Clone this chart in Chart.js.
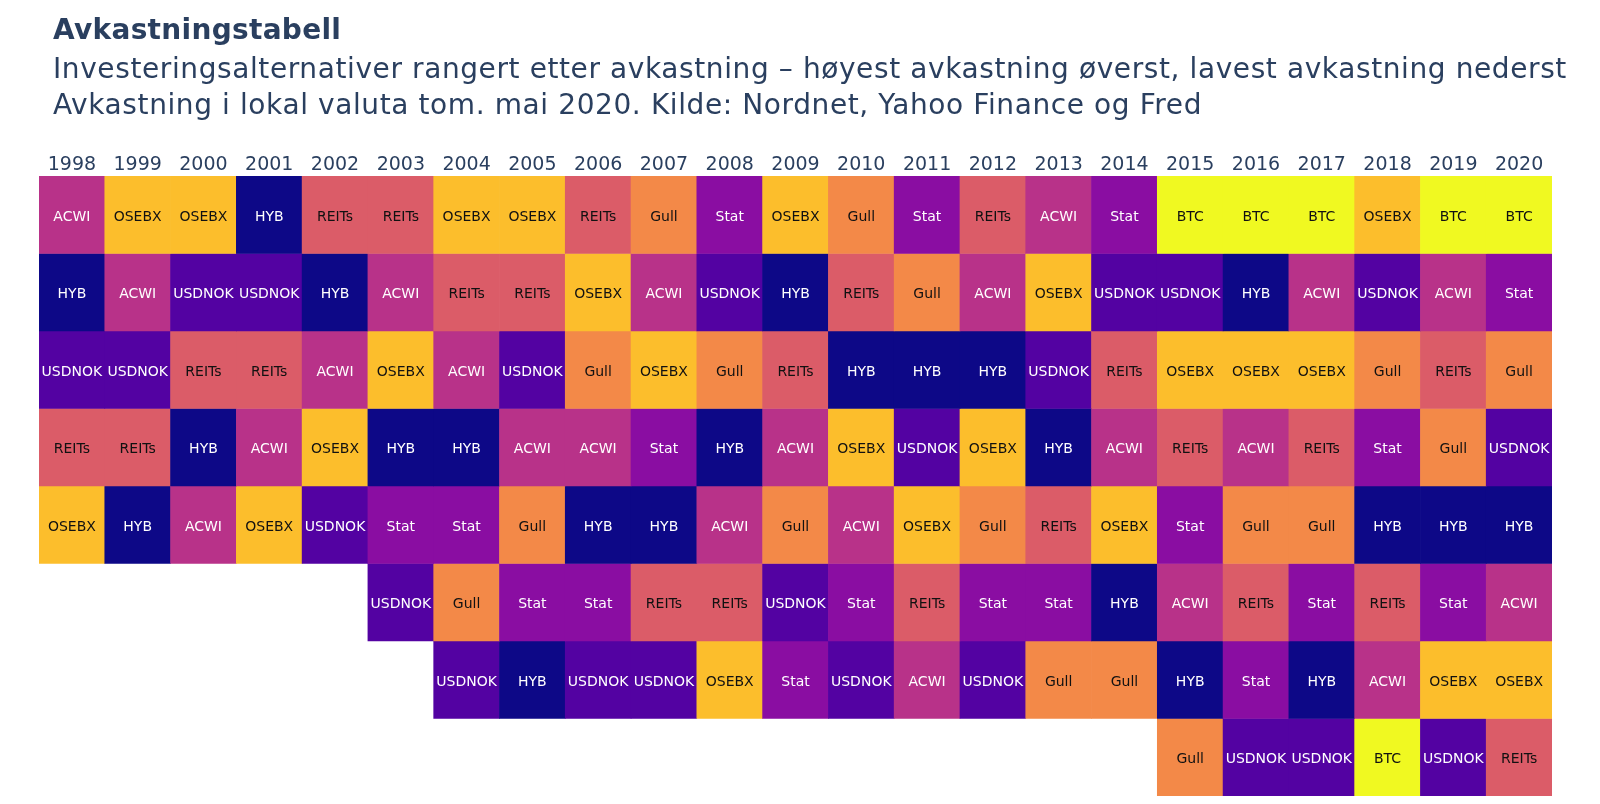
<!DOCTYPE html>
<html>
<head>
<meta charset="utf-8">
<script src="https://cdn.jsdelivr.net/npm/chart.js@4/dist/chart.umd.min.js"></script>
<style>
  html, body { margin: 0; padding: 0; background: #fff; }
  #wrap { width: 1600px; height: 804px; position: relative; }
</style>
</head>
<body>
<div id="wrap"><canvas id="chart"></canvas></div>
<script>
// years on the x axis
const years = ['1998','1999','2000','2001','2002','2003','2004','2005','2006','2007','2008',
  '2009','2010','2011','2012','2013','2014','2015','2016','2017','2018','2019','2020'];

// ranking per year, best on top (rank1) to worst (rank8); null = no entry
const rank1 = ['ACWI','OSEBX','OSEBX','HYB','REITs','REITs','OSEBX','OSEBX','REITs','Gull','Stat','OSEBX','Gull','Stat','REITs','ACWI','Stat','BTC','BTC','BTC','OSEBX','BTC','BTC'];
const rank2 = ['HYB','ACWI','USDNOK','USDNOK','HYB','ACWI','REITs','REITs','OSEBX','ACWI','USDNOK','HYB','REITs','Gull','ACWI','OSEBX','USDNOK','USDNOK','HYB','ACWI','USDNOK','ACWI','Stat'];
const rank3 = ['USDNOK','USDNOK','REITs','REITs','ACWI','OSEBX','ACWI','USDNOK','Gull','OSEBX','Gull','REITs','HYB','HYB','HYB','USDNOK','REITs','OSEBX','OSEBX','OSEBX','Gull','REITs','Gull'];
const rank4 = ['REITs','REITs','HYB','ACWI','OSEBX','HYB','HYB','ACWI','ACWI','Stat','HYB','ACWI','OSEBX','USDNOK','OSEBX','HYB','ACWI','REITs','ACWI','REITs','Stat','Gull','USDNOK'];
const rank5 = ['OSEBX','HYB','ACWI','OSEBX','USDNOK','Stat','Stat','Gull','HYB','HYB','ACWI','Gull','ACWI','OSEBX','Gull','REITs','OSEBX','Stat','Gull','Gull','HYB','HYB','HYB'];
const rank6 = [null,null,null,null,null,'USDNOK','Gull','Stat','Stat','REITs','REITs','USDNOK','Stat','REITs','Stat','Stat','HYB','ACWI','REITs','Stat','REITs','Stat','ACWI'];
const rank7 = [null,null,null,null,null,null,'USDNOK','HYB','USDNOK','USDNOK','OSEBX','Stat','USDNOK','ACWI','USDNOK','Gull','Gull','HYB','Stat','HYB','ACWI','OSEBX','OSEBX'];
const rank8 = [null,null,null,null,null,null,null,null,null,null,null,null,null,null,null,null,null,'Gull','USDNOK','USDNOK','BTC','USDNOK','REITs'];

const ranks = [rank1, rank2, rank3, rank4, rank5, rank6, rank7, rank8];

// plasma colours per asset
const assetColors = {
  HYB: '#0d0887',
  USDNOK: '#5302a2',
  Stat: '#8a0da2',
  ACWI: '#b83289',
  REITs: '#db5c68',
  Gull: '#f38948',
  OSEBX: '#fcbe2c',
  BTC: '#f0f921'
};
const darkText = ['REITs', 'Gull', 'OSEBX', 'BTC'];

const FONT = "'DejaVu Sans', Verdana, sans-serif";
const TITLE_COLOR = '#2a3f5f';

const datasets = ranks.map((r, i) => ({
  label: 'Rank ' + (i + 1),
  data: r.map(a => a ? 1 : null),
  backgroundColor: r.map(a => a ? assetColors[a] : 'transparent'),
  borderWidth: 0,
  barPercentage: 1,
  categoryPercentage: 1
}));

// titles, drawn at the top left
const titlePlugin = {
  id: 'titles',
  afterDraw(chart) {
    const ctx = chart.ctx;
    ctx.save();
    ctx.fillStyle = TITLE_COLOR;
    ctx.textAlign = 'left';
    ctx.textBaseline = 'alphabetic';
    ctx.font = 'bold 28px ' + FONT;
    ctx.letterSpacing = '0.3px';
    ctx.fillText('Avkastningstabell', 53, 39);
    ctx.font = '28px ' + FONT;
    ctx.letterSpacing = '0.6px';
    ctx.fillText('Investeringsalternativer rangert etter avkastning – høyest avkastning øverst, lavest avkastning nederst', 53, 78);
    ctx.fillText('Avkastning i lokal valuta tom. mai 2020. Kilde: Nordnet, Yahoo Finance og Fred', 53, 114);
    ctx.restore();
  }
};

// asset names inside each cell
const cellLabels = {
  id: 'cellLabels',
  afterDatasetsDraw(chart) {
    const ctx = chart.ctx;
    ctx.save();
    ctx.font = '14px ' + FONT;
    ctx.textAlign = 'center';
    ctx.textBaseline = 'alphabetic';
    chart.data.datasets.forEach((ds, i) => {
      const meta = chart.getDatasetMeta(i);
      meta.data.forEach((bar, j) => {
        const name = ranks[i][j];
        if (!name) return;
        ctx.fillStyle = darkText.includes(name) ? '#111' : '#fff';
        ctx.fillText(name, bar.x, (bar.y + bar.base) / 2 + 6);
      });
    });
    ctx.restore();
  }
};

new Chart(document.getElementById('chart'), {
  type: 'bar',
  data: { labels: years, datasets: datasets },
  options: {
    responsive: true,
    maintainAspectRatio: false,
    animation: false,
    layout: { padding: { left: 39, right: 48, top: 146, bottom: 8 } },
    plugins: {
      legend: { display: false },
      tooltip: { enabled: false },
      title: { display: false }
    },
    scales: {
      x: {
        position: 'top',
        stacked: true,
        grid: { display: false },
        border: { display: false },
        ticks: {
          color: TITLE_COLOR,
          font: { family: FONT, size: 19 },
          padding: -8,
          maxRotation: 0,
          autoSkip: false
        },
        afterFit(scale) { scale.height = 30; }
      },
      y: {
        stacked: true,
        reverse: true,
        min: 0,
        max: 8,
        display: false
      }
    }
  },
  plugins: [titlePlugin, cellLabels]
});
</script>
</body>
</html>
